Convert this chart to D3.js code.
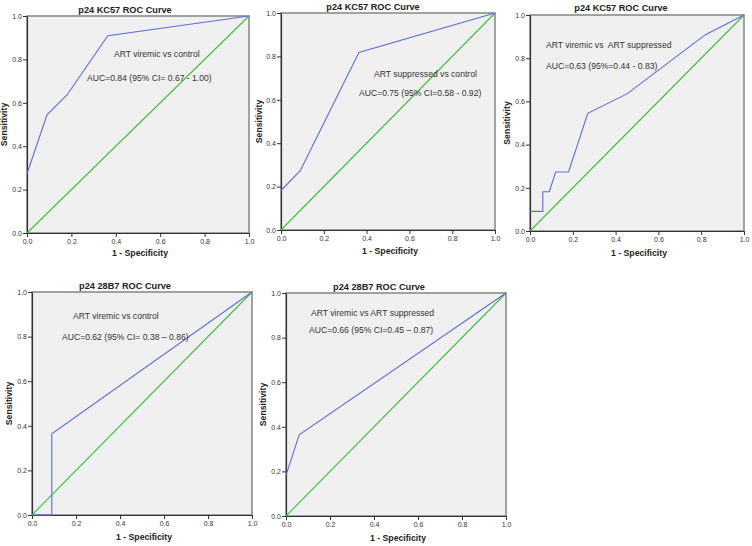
<!DOCTYPE html>
<html>
<head>
<meta charset="utf-8">
<script src="https://cdn.jsdelivr.net/npm/d3@7"></script>
<style>
  html, body { margin: 0; padding: 0; background: #fff; }
  svg { display: block; }
  text { font-family: "Liberation Sans", Arial, sans-serif; }
  .annot { white-space: pre; }
</style>
</head>
<body>
<svg id="chart" width="752" height="546"></svg>
<script>
// ---- data ----
const panelTitles = ["p24 KC57 ROC Curve", "p24 KC57 ROC Curve", "p24 KC57 ROC Curve", "p24 28B7 ROC Curve", "p24 28B7 ROC Curve"];
const comparisons = ["ART viremic vs control", "ART suppressed vs control", "ART viremic vs  ART suppressed", "ART viremic vs control", "ART viremic vs ART suppressed"];
const aucLabels = ["AUC=0.84 (95% CI= 0.67 - 1.00)", "AUC=0.75 (95% CI=0.58 - 0.92)", "AUC=0.63 (95%=0.44 - 0.83)", "AUC=0.62 (95% CI= 0.38 \u2013 0.86)", "AUC=0.66 (95% CI=0.45 \u2013 0.87)"];
const tickValues = [0, 0.2, 0.4, 0.6, 0.8, 1.0];
const xAxisTitle = "1 - Specificity";
const yAxisTitle = "Sensitivity";

const fpr1 = [0, 0.09, 0.18, 0.364, 1];
const tpr1 = [0.273, 0.545, 0.636, 0.909, 1];
const fpr2 = [0, 0.09, 0.364, 1];
const tpr2 = [0.182, 0.273, 0.818, 1];
const fpr3 = [0, 0.06, 0.06, 0.09, 0.12, 0.18, 0.27, 0.455, 0.82, 1];
const tpr3 = [0.091, 0.091, 0.182, 0.182, 0.273, 0.273, 0.545, 0.636, 0.909, 1];
const fpr4 = [0, 0.09, 0.09, 1];
const tpr4 = [0, 0, 0.364, 1];
const fpr5 = [0, 0.06, 1];
const tpr5 = [0.182, 0.364, 1];
const refX = [0, 1];
const refY = [0, 1];

const curves = [[fpr1, tpr1], [fpr2, tpr2], [fpr3, tpr3], [fpr4, tpr4], [fpr5, tpr5]];

// ---- layout (pixels) ----
const layout = [
  {l: 27,  r: 249, t: 16,  b: 233, titleX: 125, titleY: 13,  yTitleX: 7,   xTitleY: 256, c1: [114, 57], c2: [87, 81]},
  {l: 281, r: 495, t: 13,  b: 230, titleX: 373, titleY: 10,  yTitleX: 262, xTitleY: 254, c1: [374, 77], c2: [359, 96]},
  {l: 530, r: 744, t: 15,  b: 231, titleX: 621, titleY: 11,  yTitleX: 510, xTitleY: 256, c1: [546, 48], c2: [546, 69]},
  {l: 32,  r: 252, t: 292, b: 515, titleX: 125, titleY: 289, yTitleX: 12,  xTitleY: 540, c1: [73, 319], c2: [62, 340]},
  {l: 286, r: 506, t: 293, b: 516, titleX: 379, titleY: 290, yTitleX: 266, xTitleY: 541, c1: [311, 316], c2: [309, 333]}
];

const svg = d3.select("#chart");

curves.forEach((c, i) => {
  const L = layout[i];
  const x = d3.scaleLinear().domain([0, 1]).range([L.l, L.r]);
  const y = d3.scaleLinear().domain([0, 1]).range([L.b, L.t]);
  const g = svg.append("g");

  // background + frame
  g.append("rect")
    .attr("x", L.l).attr("y", L.t)
    .attr("width", L.r - L.l).attr("height", L.b - L.t)
    .attr("fill", "#f0f0f0")
    .attr("stroke", "#8c8c8c").attr("stroke-width", 1.6);

  // axes
  const xAxis = d3.axisBottom(x).tickValues(tickValues).tickFormat(d3.format(".1f")).tickSize(4).tickSizeOuter(0);
  const yAxis = d3.axisLeft(y).tickValues(tickValues).tickFormat(d3.format(".1f")).tickSize(4).tickSizeOuter(0);
  const gx = g.append("g").attr("transform", `translate(0,${L.b})`).call(xAxis);
  const gy = g.append("g").attr("transform", `translate(${L.l},0)`).call(yAxis);
  [gx, gy].forEach(ax => {
    ax.select(".domain").attr("stroke", "#333").attr("stroke-width", 1.2);
    ax.selectAll(".tick line").attr("stroke", "#333");
    ax.selectAll(".tick text").attr("fill", "#333").style("font-size", "7px")
      .style("font-family", "'Liberation Sans', Arial, sans-serif");
  });
  gx.selectAll(".tick text").attr("dy", "0.9em").attr("y", 5);
  gy.selectAll(".tick text").attr("x", -5);

  // reference diagonal
  const line = d3.line().x(d => x(d[0])).y(d => y(d[1]));
  g.append("path")
    .datum(d3.zip(refX, refY))
    .attr("d", line)
    .attr("fill", "none").attr("stroke", "#3cbf3c").attr("stroke-width", 1.1);

  // ROC curve
  g.append("path")
    .datum(d3.zip(c[0], c[1]))
    .attr("d", line)
    .attr("fill", "none").attr("stroke", "#5b6fd1").attr("stroke-width", 1.1);

  // title
  g.append("text").attr("x", L.titleX).attr("y", L.titleY)
    .attr("text-anchor", "middle").attr("font-weight", "bold")
    .style("font-size", "9.2px").attr("fill", "#222").text(panelTitles[i]);

  // axis titles
  g.append("text").attr("x", (L.l + L.r) / 2 + 2).attr("y", L.xTitleY)
    .attr("text-anchor", "middle").attr("font-weight", "bold")
    .style("font-size", "8.7px").attr("fill", "#222").text(xAxisTitle);
  g.append("text")
    .attr("transform", `translate(${L.yTitleX},${(L.t + L.b) / 2}) rotate(-90)`)
    .attr("text-anchor", "middle").attr("font-weight", "bold")
    .style("font-size", "8.7px").attr("fill", "#222").text(yAxisTitle);

  // annotations
  g.append("text").attr("class", "annot").attr("x", L.c1[0]).attr("y", L.c1[1])
    .style("font-size", "8.6px").attr("fill", "#333").text(comparisons[i]);
  g.append("text").attr("class", "annot").attr("x", L.c2[0]).attr("y", L.c2[1])
    .style("font-size", "8.6px").attr("fill", "#333").text(aucLabels[i]);
});
</script>
</body>
</html>
